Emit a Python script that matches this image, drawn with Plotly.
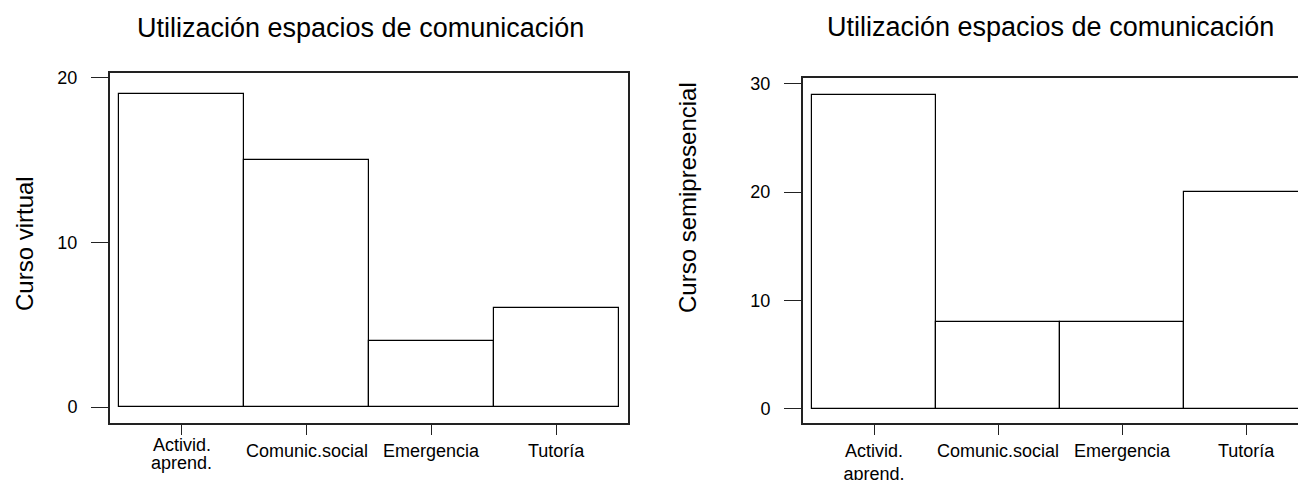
import plotly.graph_objects as go

categories = ["Activid.<br>aprend.", "Comunic.social", "Emergencia", "Tutoría"]
virtual_values = [19, 15, 4, 6]
semipresencial_values = [29, 8, 8, 20]
chart_title = "Utilización espacios de comunicación"
y_title_left = "Curso virtual"
y_title_right = "Curso semipresencial"
y_ticks_left = [0, 10, 20]
y_ticks_right = [0, 10, 20, 30]

# The page body has an 8px default margin; size the figure to fill the rest of the window.
OFF = 8
W, H = 1306 - OFF, 480 - OFF
FONT = "Liberation Sans, Arial, sans-serif"
FRAME = "#222222"
TICKFONT = 18

def px_x(p):
    """Screen x pixel -> paper fraction."""
    return (p - OFF) / W

def px_y(p):
    """Screen y pixel -> paper fraction."""
    return 1 - (p - OFF) / H

fig = go.Figure()
xs = list(range(len(categories)))
bar_style = dict(marker=dict(color="white", line=dict(color="black", width=1.2)),
                 width=1.0, showlegend=False, hoverinfo="y")
fig.add_trace(go.Bar(x=xs, y=virtual_values, xaxis="x", yaxis="y", **bar_style))
fig.add_trace(go.Bar(x=xs, y=semipresencial_values, xaxis="x2", yaxis="y2", **bar_style))

xcommon = dict(tickmode="array", tickvals=xs, ticktext=categories, automargin=False,
               showgrid=False, zeroline=False, showline=True, linecolor=FRAME, linewidth=2,
               ticks="outside", ticklen=10, tickcolor=FRAME, tickwidth=1,
               tickfont=dict(family=FONT, size=TICKFONT, color="black"))
ycommon = dict(showgrid=False, zeroline=False, showline=True, linecolor=FRAME, linewidth=2,
               ticks="outside", ticklen=17, tickcolor=FRAME, tickwidth=1, automargin=False,
               ticklabelstandoff=10,
               tickfont=dict(family=FONT, size=TICKFONT, color="black"))

# Left panel category labels: placed on the x axis scale with tight line spacing
annotations = []
for xv, label in zip(xs, categories):
    lines = label.split("<br>")
    n = len(lines)
    base = 457 - (n - 1) * 6  # baseline of first line (screen px from top)
    for i, line in enumerate(lines):
        baseline = base + i * 18
        annotations.append(dict(text=line, xref="x", yref="paper", x=xv,
                                y=px_y(baseline - 0.3465 * TICKFONT),
                                xanchor="center", yanchor="middle", showarrow=False,
                                font=dict(family=FONT, size=TICKFONT, color="black")))

annotations += [
    dict(text=chart_title, xref="paper", yref="paper", x=px_x(360), y=px_y(28),
         xanchor="center", yanchor="middle", showarrow=False,
         font=dict(family=FONT, size=27, color="black")),
    dict(text=chart_title, xref="paper", yref="paper", x=px_x(1050), y=px_y(27),
         xanchor="center", yanchor="middle", showarrow=False,
         font=dict(family=FONT, size=27, color="black")),
    dict(text=y_title_left, xref="paper", yref="paper", x=px_x(24), y=px_y(244),
         xanchor="center", yanchor="middle", showarrow=False, textangle=-90,
         font=dict(family=FONT, size=24, color="black")),
    dict(text=y_title_right, xref="paper", yref="paper", x=px_x(687), y=px_y(198),
         xanchor="center", yanchor="middle", showarrow=False, textangle=-90,
         font=dict(family=FONT, size=24, color="black")),
]

fig.update_layout(
    width=W, height=H, margin=dict(l=0, r=0, t=0, b=0, autoexpand=False),
    paper_bgcolor="white", plot_bgcolor="white", bargap=0,
    xaxis=dict(domain=[px_x(110), px_x(628)], range=[-0.572, 3.572], anchor="y",
               mirror=True, showticklabels=False, **xcommon),
    yaxis=dict(domain=[px_y(422.5), px_y(73)], range=[-0.94, 20.30], anchor="x",
               mirror=True, tickvals=y_ticks_left, **ycommon),
    xaxis2=dict(domain=[px_x(803), 1.0], range=[-0.573, 3.483], anchor="y2",
                mirror=True, ticklabelstandoff=0, **xcommon),
    yaxis2=dict(domain=[px_y(423), px_y(78)], range=[-1.34, 30.55], anchor="x2",
                mirror=False, tickvals=y_ticks_right, **ycommon),
    annotations=annotations,
)

fig.write_html("out.html")
